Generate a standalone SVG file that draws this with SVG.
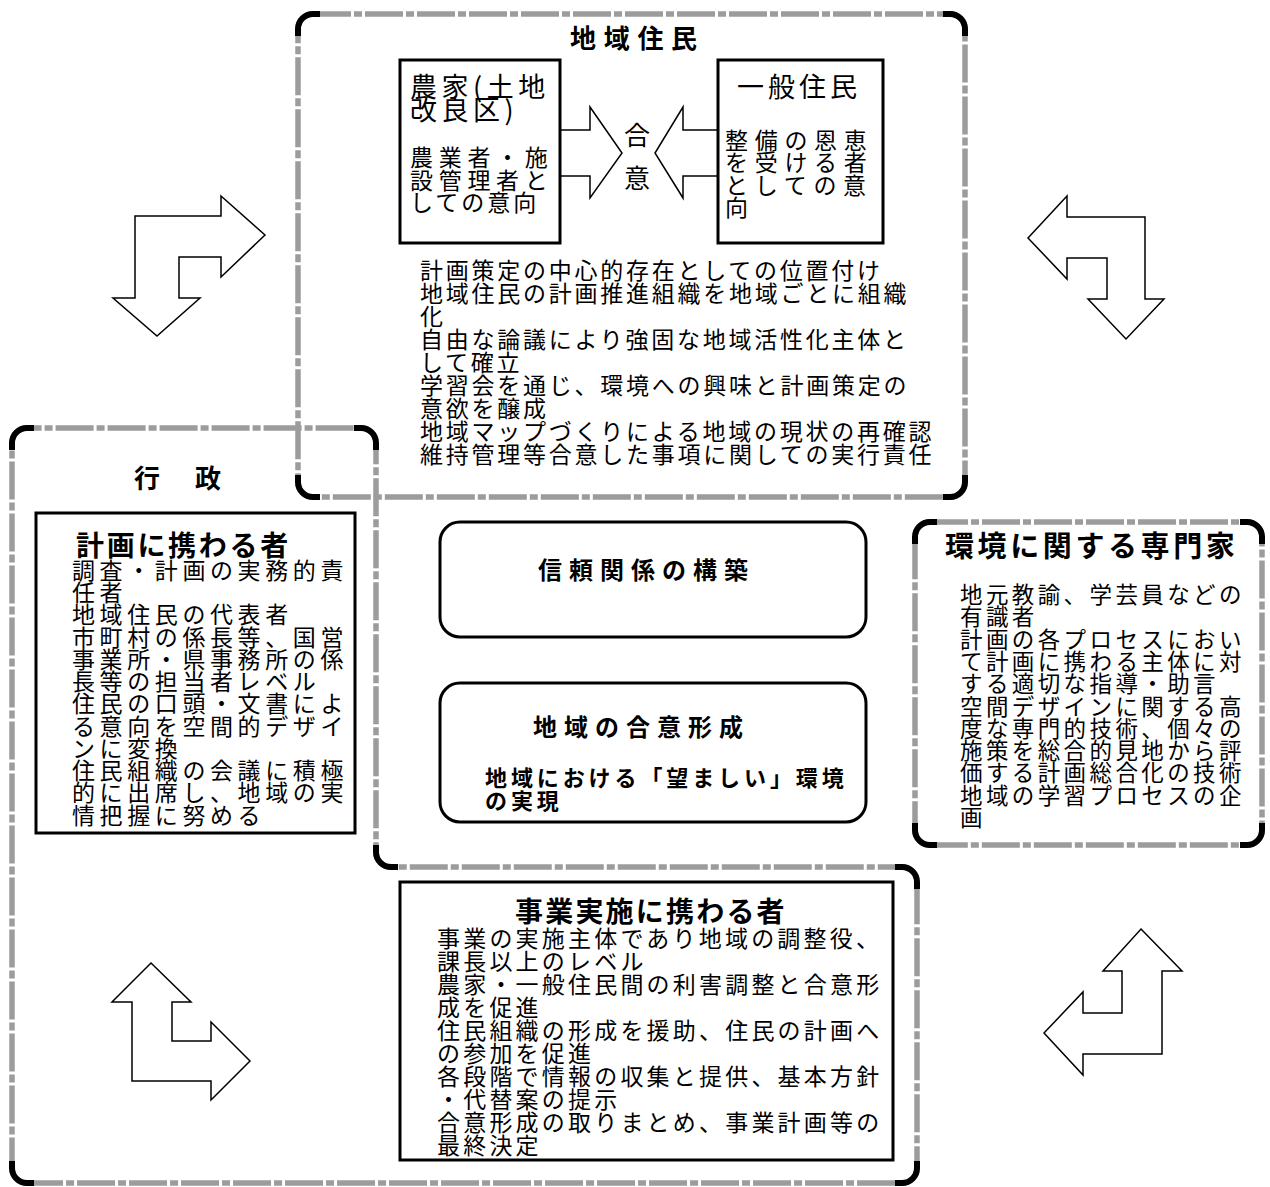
<svg xmlns="http://www.w3.org/2000/svg" width="1270" height="1187" viewBox="0 0 1270 1187">
<style>
.db{fill:none;stroke:#9c9c9c;stroke-width:5.5;stroke-dasharray:38 3 8 3}
.cn{fill:none;stroke:#000;stroke-width:6}
.bx{fill:#fff;stroke:#000;stroke-width:3}
.rb{fill:#fff;stroke:#000;stroke-width:3}
.ar{fill:#fff;stroke:#000;stroke-width:1.5;stroke-linejoin:miter}
text{font-family:"Noto Sans CJK JP","Noto Sans CJK SC",sans-serif;fill:#000}
.b{font-weight:bold}
</style>
<rect width="1270" height="1187" fill="#fff"/>

<g id="connectors">
<polygon class="ar" points="221,196 265,235 221,277 221,257 179,257 179,298 200,298 157,336 113,298 135,298 135,216 221,216"/>
<polygon class="ar" points="1067,196 1028,238 1067,279 1067,258 1107,258 1107,299 1088,299 1126,339 1164,299 1145,299 1145,217 1067,217"/>
<polygon class="ar" points="151,963 191,1002 172,1002 172,1041 211,1041 211,1022 250,1061 211,1100 211,1081 132,1081 132,1002 112,1002"/>
<polygon class="ar" points="1141,929 1182,971 1162,971 1162,1054 1083,1054 1083,1075 1044,1033 1083,992 1083,1013 1122,1013 1122,971 1103,971"/>
<polygon class="ar" points="560,130 590,130 590,107 622,153 590,198 590,176 560,176"/>
<polygon class="ar" points="718,130 683,130 683,107 655,153 683,198 683,176 718,176"/>
</g>

<g id="chiiki-jumin">
<rect class="db" x="298" y="14" width="667" height="483" rx="15"/>
<path class="cn" d="M298,36 L298,29 A15,15 0 0 1 313,14 L320,14 M943,14 L950,14 A15,15 0 0 1 965,29 L965,36 M965,475 L965,482 A15,15 0 0 1 950,497 L943,497 M320,497 L313,497 A15,15 0 0 1 298,482 L298,475"/>
<text class="b" x="570" y="48" font-size="26" letter-spacing="7.7">地域住民</text>
<text font-size="23" letter-spacing="2.75">
<tspan x="420" y="279">計画策定の中心的存在としての位置付け</tspan>
<tspan x="420" y="302">地域住民の計画推進組織を地域ごとに組織</tspan>
<tspan x="420" y="325">化</tspan>
<tspan x="420" y="348">自由な論議により強固な地域活性化主体と</tspan>
<tspan x="420" y="371">して確立</tspan>
<tspan x="420" y="394">学習会を通じ、環境への興味と計画策定の</tspan>
<tspan x="420" y="417">意欲を醸成</tspan>
<tspan x="420" y="440">地域マップづくりによる地域の現状の再確認</tspan>
<tspan x="420" y="463">維持管理等合意した事項に関しての実行責任</tspan>
</text>
</g>

<g id="noka">
<rect class="bx" x="400" y="60" width="160" height="183"/>
<text x="410" y="97" font-size="27" letter-spacing="4.5">農家(土地</text>
<text x="410" y="120" font-size="27" letter-spacing="4.5">改良区)</text>
<text x="410" y="166" font-size="23" letter-spacing="5.7">農業者・施</text>
<text x="410" y="189" font-size="23" letter-spacing="5.7">設管理者と</text>
<text x="410" y="211" font-size="23" letter-spacing="3">しての意向</text>
</g>

<g id="ippan-jumin">
<rect class="bx" x="718" y="60" width="165" height="183"/>
<text x="737" y="97" font-size="27" letter-spacing="4">一般住民</text>
<text x="725" y="149" font-size="23" letter-spacing="6.7">整備の恩恵</text>
<text x="725" y="171" font-size="23" letter-spacing="6.7">を受ける者</text>
<text x="725" y="194" font-size="23" letter-spacing="6.7">としての意</text>
<text x="725" y="216" font-size="23" letter-spacing="6.7">向</text>
</g>

<g id="goi">
<text x="637" y="145" font-size="26" text-anchor="middle">合</text>
<text x="637" y="188" font-size="26" text-anchor="middle">意</text>
</g>

<g id="gyosei">
<path class="db" d="M12,443 A15,15 0 0 1 27,428 L361,428 A15,15 0 0 1 376,443 L376,852 A15,15 0 0 0 391,867 L902,867 A15,15 0 0 1 917,882 L917,1168 A15,15 0 0 1 902,1183 L27,1183 A15,15 0 0 1 12,1168 Z"/>
<path class="cn" d="M12,450 L12,443 A15,15 0 0 1 27,428 L34,428 M354,428 L361,428 A15,15 0 0 1 376,443 L376,450 M376,845 L376,852 A15,15 0 0 0 391,867 L398,867 M895,867 L902,867 A15,15 0 0 1 917,882 L917,889 M917,1161 L917,1168 A15,15 0 0 1 902,1183 L895,1183 M34,1183 L27,1183 A15,15 0 0 1 12,1168 L12,1161"/>
<text class="b" x="134" y="488" font-size="26">行</text>
<text class="b" x="195" y="488" font-size="26">政</text>
</g>

<g id="keikaku">
<rect class="bx" x="36" y="513" width="319" height="320"/>
<text class="b" x="76" y="556" font-size="28" letter-spacing="2.7">計画に携わる者</text>
<text font-size="23" letter-spacing="4.6">
<tspan x="72" y="579">調査・計画の実務的責</tspan>
<tspan x="72" y="601">任者</tspan>
<tspan x="72" y="623">地域住民の代表者</tspan>
<tspan x="72" y="646">市町村の係長等、国営</tspan>
<tspan x="72" y="668">事業所・県事務所の係</tspan>
<tspan x="72" y="690">長等の担当者レベル</tspan>
<tspan x="72" y="712">住民の口頭・文書によ</tspan>
<tspan x="72" y="735">る意向を空間的デザイ</tspan>
<tspan x="72" y="757">ンに変換</tspan>
<tspan x="72" y="779">住民組織の会議に積極</tspan>
<tspan x="72" y="801">的に出席し、地域の実</tspan>
<tspan x="72" y="824">情把握に努める</tspan>
</text>
</g>

<g id="shinrai">
<rect class="rb" x="440" y="522" width="426" height="115" rx="20"/>
<text class="b" x="538" y="579" font-size="24" letter-spacing="7">信頼関係の構築</text>
</g>

<g id="goikeisei">
<rect class="rb" x="440" y="683" width="426" height="139" rx="20"/>
<text class="b" x="533" y="736" font-size="24" letter-spacing="7">地域の合意形成</text>
<text class="b" x="485" y="786" font-size="22" letter-spacing="3.9">地域における「望ましい」環境</text>
<text class="b" x="485" y="809" font-size="22" letter-spacing="3.9">の実現</text>
</g>

<g id="senmonka">
<rect class="db" x="915" y="522" width="347" height="323" rx="15"/>
<path class="cn" d="M915,544 L915,537 A15,15 0 0 1 930,522 L937,522 M1240,522 L1247,522 A15,15 0 0 1 1262,537 L1262,544 M1262,823 L1262,830 A15,15 0 0 1 1247,845 L1240,845 M937,845 L930,845 A15,15 0 0 1 915,830 L915,823"/>
<text class="b" x="945" y="557" font-size="29" letter-spacing="3.6">環境に関する専門家</text>
<text font-size="22.5" letter-spacing="3.4">
<tspan x="960" y="603">地元教諭、学芸員などの</tspan>
<tspan x="960" y="625">有識者</tspan>
<tspan x="960" y="648">計画の各プロセスにおい</tspan>
<tspan x="960" y="670">て計画に携わる主体に対</tspan>
<tspan x="960" y="692">する適切な指導・助言</tspan>
<tspan x="960" y="715">空間デザインに関する高</tspan>
<tspan x="960" y="737">度な専門的技術、個々の</tspan>
<tspan x="960" y="759">施策を総合的見地から評</tspan>
<tspan x="960" y="781">価する計画総合化の技術</tspan>
<tspan x="960" y="804">地域の学習プロセスの企</tspan>
<tspan x="960" y="826">画</tspan>
</text>
</g>

<g id="jigyo">
<rect class="bx" x="400" y="882" width="493" height="278"/>
<text class="b" x="515" y="922" font-size="28" letter-spacing="2.2">事業実施に携わる者</text>
<text font-size="23" letter-spacing="3.2">
<tspan x="437" y="947">事業の実施主体であり地域の調整役、</tspan>
<tspan x="437" y="970">課長以上のレベル</tspan>
<tspan x="437" y="993">農家・一般住民間の利害調整と合意形</tspan>
<tspan x="437" y="1016">成を促進</tspan>
<tspan x="437" y="1039">住民組織の形成を援助、住民の計画へ</tspan>
<tspan x="437" y="1062">の参加を促進</tspan>
<tspan x="437" y="1085">各段階で情報の収集と提供、基本方針</tspan>
<tspan x="437" y="1108">・代替案の提示</tspan>
<tspan x="437" y="1131">合意形成の取りまとめ、事業計画等の</tspan>
<tspan x="437" y="1154">最終決定</tspan>
</text>
</g>
</svg>
